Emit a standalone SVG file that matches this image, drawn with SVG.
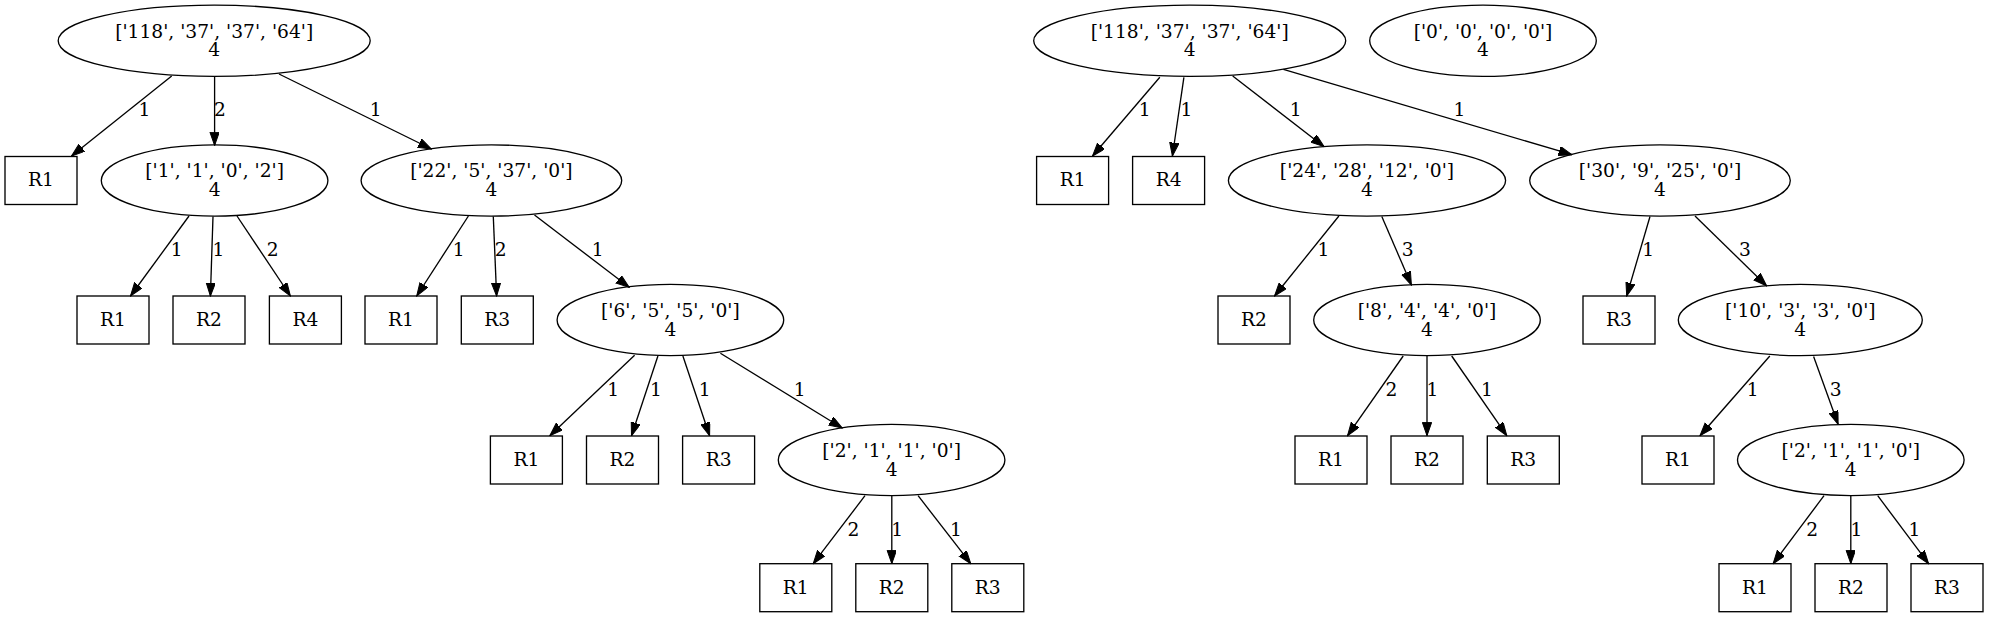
<svg xmlns="http://www.w3.org/2000/svg" width="1989" height="617" viewBox="0 0 1989 617">
<style>
.n ellipse, .n rect { fill: none; stroke: #000; stroke-width: 1.33; }
text { font-family: "DejaVu Serif", "Liberation Serif", serif; font-size: 18.67px; fill: #000; text-anchor: middle; }
.e path { fill: none; stroke: #000; stroke-width: 1.33; marker-end: url(#arr); }
</style>
<defs>
<marker id="arr" viewBox="0 0 14 10" refX="13.3" refY="4.67" markerWidth="14" markerHeight="10" markerUnits="userSpaceOnUse" orient="auto">
<polygon points="0,0 13.3,4.67 0,9.33" fill="#000" stroke="#000" stroke-width="1"/>
</marker>
</defs>
<rect width="1989" height="617" fill="#fff"/>

<g id="edges" class="e">
<path d="M171.7,76 L71.5,156"/><text x="144.4" y="116">1</text>
<path d="M214.6,76.5 L214.6,145.5"/><text x="220" y="116">2</text>
<path d="M279,74 L431.4,149"/><text x="375.8" y="116">1</text>
<path d="M189,216 L130.5,296"/><text x="176.8" y="256">1</text>
<path d="M213,216.5 L210.4,296"/><text x="218.4" y="256">1</text>
<path d="M237,216 L290.4,296"/><text x="272.7" y="256">2</text>
<path d="M468.4,216 L416.7,296"/><text x="458.8" y="256">1</text>
<path d="M493.3,216.5 L496.6,296"/><text x="500.8" y="256">2</text>
<path d="M534.5,215 L629.2,287.3"/><text x="597.6" y="256">1</text>
<path d="M634.6,355.3 L549.8,435.7"/><text x="613.2" y="395.5">1</text>
<path d="M657.9,356 L631.5,435.7"/><text x="656" y="395.5">1</text>
<path d="M682.9,356 L709.6,435.7"/><text x="704.7" y="395.5">1</text>
<path d="M720.4,353.3 L842.2,428"/><text x="799.8" y="395.5">1</text>
<path d="M865,495.7 L813.2,563.7"/><text x="853.4" y="535.5">2</text>
<path d="M891.8,496 L891.8,563.7"/><text x="897.1" y="535.5">1</text>
<path d="M918.1,495.7 L970.8,563.7"/><text x="956" y="535.5">1</text>

<path d="M1159.8,77.3 L1092.5,156"/><text x="1144.7" y="116">1</text>
<path d="M1183.9,77.3 L1172.4,156"/><text x="1186.5" y="116">1</text>
<path d="M1232.7,76 L1324.1,146.7"/><text x="1295.6" y="116">1</text>
<path d="M1283.4,69.3 L1572,154.7"/><text x="1459.5" y="116">1</text>
<path d="M1338.9,216 L1274.5,296"/><text x="1323.4" y="256">1</text>
<path d="M1381.8,216.5 L1411.4,285"/><text x="1407.7" y="256">3</text>
<path d="M1650,216.5 L1626.7,296"/><text x="1648.3" y="256">1</text>
<path d="M1695,216 L1766.7,286"/><text x="1745" y="256">3</text>
<path d="M1403.2,356 L1347.5,435.7"/><text x="1391.4" y="395.5">2</text>
<path d="M1427,356 L1427,435.7"/><text x="1432.4" y="395.5">1</text>
<path d="M1451.7,356 L1506.8,435.7"/><text x="1487" y="395.5">1</text>
<path d="M1769.8,356 L1700,435.7"/><text x="1752.8" y="395.5">1</text>
<path d="M1813.6,356.5 L1838.1,424.3"/><text x="1835.8" y="395.5">3</text>
<path d="M1824,495.7 L1773.1,563.7"/><text x="1812.2" y="535.5">2</text>
<path d="M1850.8,496 L1850.8,563.7"/><text x="1856.5" y="535.5">1</text>
<path d="M1877.7,495.7 L1928.6,563.7"/><text x="1914.5" y="535.5">1</text>
</g>

<!-- Left tree -->
<g id="L0" class="n"><ellipse cx="214.2" cy="40.8" rx="156" ry="35.6"/><text x="214.2" y="37.6">['118', '37', '37', '64']</text><text x="214.2" y="56.3">4</text></g>
<g id="L1_R1" class="n"><rect x="5" y="156.5" width="72" height="48"/><text x="41" y="186.4">R1</text></g>
<g id="L1_N" class="n"><ellipse cx="214.6" cy="180.5" rx="113.3" ry="35.6"/><text x="214.6" y="177.3">['1', '1', '0', '2']</text><text x="214.6" y="196">4</text></g>
<g id="L1_M" class="n"><ellipse cx="491.4" cy="180.5" rx="130.3" ry="35.6"/><text x="491.4" y="177.3">['22', '5', '37', '0']</text><text x="491.4" y="196">4</text></g>
<g id="L2_R1a" class="n"><rect x="77" y="296" width="72" height="48"/><text x="113" y="325.9">R1</text></g>
<g id="L2_R2" class="n"><rect x="173" y="296" width="72" height="48"/><text x="209" y="325.9">R2</text></g>
<g id="L2_R4" class="n"><rect x="269.4" y="296" width="72" height="48"/><text x="305.4" y="325.9">R4</text></g>
<g id="L2_R1b" class="n"><rect x="365" y="296" width="72" height="48"/><text x="401" y="325.9">R1</text></g>
<g id="L2_R3" class="n"><rect x="461.3" y="296" width="72" height="48"/><text x="497.3" y="325.9">R3</text></g>
<g id="L2_N" class="n"><ellipse cx="670.4" cy="320" rx="113.3" ry="35.6"/><text x="670.4" y="316.8">['6', '5', '5', '0']</text><text x="670.4" y="335.5">4</text></g>
<g id="L3_R1" class="n"><rect x="490.4" y="436" width="72" height="48"/><text x="526.4" y="465.9">R1</text></g>
<g id="L3_R2" class="n"><rect x="586.5" y="436" width="72" height="48"/><text x="622.5" y="465.9">R2</text></g>
<g id="L3_R3" class="n"><rect x="682.6" y="436" width="72" height="48"/><text x="718.6" y="465.9">R3</text></g>
<g id="L3_N" class="n"><ellipse cx="891.6" cy="460" rx="113.3" ry="35.6"/><text x="891.6" y="456.8">['2', '1', '1', '0']</text><text x="891.6" y="475.5">4</text></g>
<g id="L4_R1" class="n"><rect x="759.8" y="563.7" width="72" height="48"/><text x="795.8" y="593.6">R1</text></g>
<g id="L4_R2" class="n"><rect x="855.8" y="563.7" width="72" height="48"/><text x="891.8" y="593.6">R2</text></g>
<g id="L4_R3" class="n"><rect x="951.8" y="563.7" width="72" height="48"/><text x="987.8" y="593.6">R3</text></g>

<!-- Right tree -->
<g id="R0" class="n"><ellipse cx="1189.7" cy="40.8" rx="156" ry="35.6"/><text x="1189.7" y="37.6">['118', '37', '37', '64']</text><text x="1189.7" y="56.3">4</text></g>
<g id="Z0" class="n"><ellipse cx="1483" cy="40.8" rx="113.3" ry="35.6"/><text x="1483" y="37.6">['0', '0', '0', '0']</text><text x="1483" y="56.3">4</text></g>
<g id="R1_R1" class="n"><rect x="1036.6" y="156.5" width="72" height="48"/><text x="1072.6" y="186.4">R1</text></g>
<g id="R1_R4" class="n"><rect x="1132.6" y="156.5" width="72" height="48"/><text x="1168.6" y="186.4">R4</text></g>
<g id="R1_N" class="n"><ellipse cx="1367" cy="180.5" rx="138.6" ry="35.6"/><text x="1367" y="177.3">['24', '28', '12', '0']</text><text x="1367" y="196">4</text></g>
<g id="R1_M" class="n"><ellipse cx="1660" cy="180.5" rx="130.3" ry="35.6"/><text x="1660" y="177.3">['30', '9', '25', '0']</text><text x="1660" y="196">4</text></g>
<g id="R2_R2" class="n"><rect x="1218" y="296" width="72" height="48"/><text x="1254" y="325.9">R2</text></g>
<g id="R2_N" class="n"><ellipse cx="1427" cy="320" rx="113.3" ry="35.6"/><text x="1427" y="316.8">['8', '4', '4', '0']</text><text x="1427" y="335.5">4</text></g>
<g id="R2_R3" class="n"><rect x="1583" y="296" width="72" height="48"/><text x="1619" y="325.9">R3</text></g>
<g id="R2_M" class="n"><ellipse cx="1800.3" cy="320" rx="122" ry="35.6"/><text x="1800.3" y="316.8">['10', '3', '3', '0']</text><text x="1800.3" y="335.5">4</text></g>
<g id="R3_R1a" class="n"><rect x="1295" y="436" width="72" height="48"/><text x="1331" y="465.9">R1</text></g>
<g id="R3_R2" class="n"><rect x="1391" y="436" width="72" height="48"/><text x="1427" y="465.9">R2</text></g>
<g id="R3_R3" class="n"><rect x="1487.3" y="436" width="72" height="48"/><text x="1523.3" y="465.9">R3</text></g>
<g id="R3_R1b" class="n"><rect x="1642" y="436" width="72" height="48"/><text x="1678" y="465.9">R1</text></g>
<g id="R3_N" class="n"><ellipse cx="1850.8" cy="460" rx="113.3" ry="35.6"/><text x="1850.8" y="456.8">['2', '1', '1', '0']</text><text x="1850.8" y="475.5">4</text></g>
<g id="R4_R1" class="n"><rect x="1719" y="563.7" width="72" height="48"/><text x="1755" y="593.6">R1</text></g>
<g id="R4_R2" class="n"><rect x="1815" y="563.7" width="72" height="48"/><text x="1851" y="593.6">R2</text></g>
<g id="R4_R3" class="n"><rect x="1911" y="563.7" width="72" height="48"/><text x="1947" y="593.6">R3</text></g>
</svg>
